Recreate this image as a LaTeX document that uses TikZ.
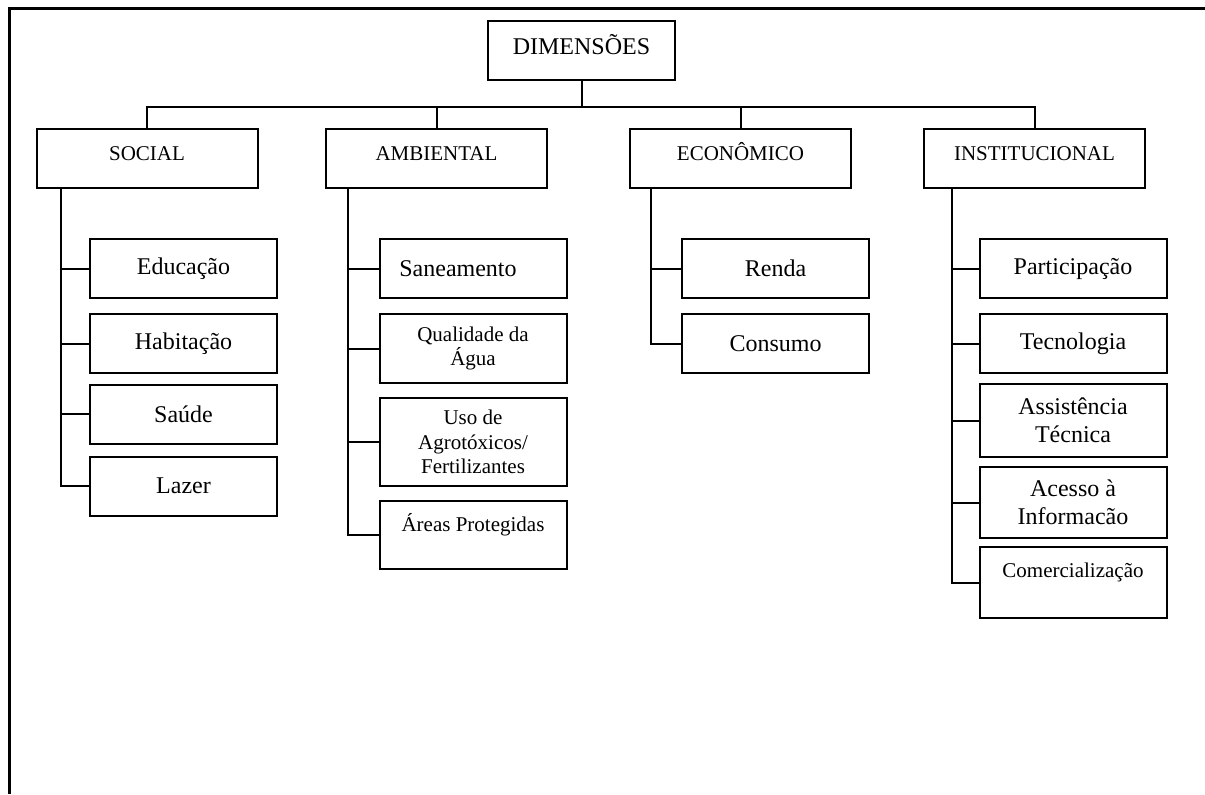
\documentclass[tikz,border=0pt]{standalone}
\usepackage{fontspec}
\setmainfont{Liberation Serif}
\usetikzlibrary{positioning,calc}

\begin{document}
\begin{tikzpicture}[x=0.5pt, y=-0.5pt, line width=1pt,
  every node/.style={draw, inner sep=0pt, align=center},
  dim/.style={minimum width=93.5pt, minimum height=29.5pt, font=\fontsize{12}{13.8}\selectfont, text height=8pt, text depth=4.5pt},
  head/.style={minimum width=110.5pt, minimum height=29.5pt, font=\fontsize{10.5}{12.2}\selectfont, text height=7pt, text depth=5.5pt},
  item/.style={minimum width=93.5pt, minimum height=29.5pt, font=\fontsize{12}{13.8}\selectfont},
  itemsm/.style={item, font=\fontsize{10.5}{12.2}\selectfont},
  link/.style={line width=1pt}]
\useasboundingbox (0,0) rectangle (1205,794);
% frame
\draw[line width=1.5pt] (9,794) -- (9,8) -- (1205,8);

% top level
\node[dim] (dim) at (581.5,50.5) {DIMENSÕES};
\node[head] (social) at (147,158.5) {SOCIAL};
\node[head] (amb) at (436.5,158.5) {AMBIENTAL};
\node[head] (eco) at (740.5,158.5) {ECONÔMICO};
\node[head] (inst) at (1034.5,158.5) {INSTITUCIONAL};

% social
\node[item] (edu) at (183.5,268.5) {Educação};
\node[item] (hab) at (183.5,343.5) {Habitação};
\node[item] (sau) at (183.5,414) {Saúde};
\node[item] (laz) at (183.5,486) {Lazer};

% ambiental
\node[item] (san) at (473,268.5) {Saneamento\hspace*{15pt}};
\node[itemsm, minimum height=34.5pt] (agua) at (473,348.5) {Qualidade da\\Água};
\node[itemsm, minimum height=44pt] (agro) at (473,442) {Uso de\\Agrotóxicos/\\Fertilizantes};
\node[itemsm, minimum height=34pt] (areas) at (473,535) {Áreas Protegidas\\ \mbox{}};

% economico
\node[item] (renda) at (775.5,268.5) {Renda};
\node[item] (cons) at (775.5,343.5) {Consumo};

% institucional
\node[item] (part) at (1073,268.5) {Participação};
\node[item] (tec) at (1073,343.5) {Tecnologia};
\node[item, minimum height=36.5pt] (assist) at (1073,420.5) {Assistência\\Técnica};
\node[item, minimum height=35.5pt] (info) at (1073,502.5) {Acesso à\\Informacão};
\node[itemsm, minimum height=35.5pt] (com) at (1073,582.5) {Comercialização\\ \mbox{}};

% connectors
\draw[link] (dim.south) -- ++(0,26) coordinate (bus);
\draw[link] (social.north) |- (bus) -| (inst.north);
\draw[link] (amb.north) -- (amb.north |- bus);
\draw[link] (eco.north) -- (eco.north |- bus);

\coordinate (sT) at ($(social.south west)+(25,0)$);
\coordinate (aT) at ($(amb.south west)+(23,0)$);
\coordinate (eT) at ($(eco.south west)+(22,0)$);
\coordinate (iT) at ($(inst.south west)+(29,0)$);
\foreach \c in {edu,hab,sau,laz} \draw[link] (sT) |- (\c.west);
\foreach \c in {san,agua,agro,areas} \draw[link] (aT) |- (\c.west);
\foreach \c in {renda,cons} \draw[link] (eT) |- (\c.west);
\foreach \c in {part,tec,assist,info,com} \draw[link] (iT) |- (\c.west);
\end{tikzpicture}
\end{document}
